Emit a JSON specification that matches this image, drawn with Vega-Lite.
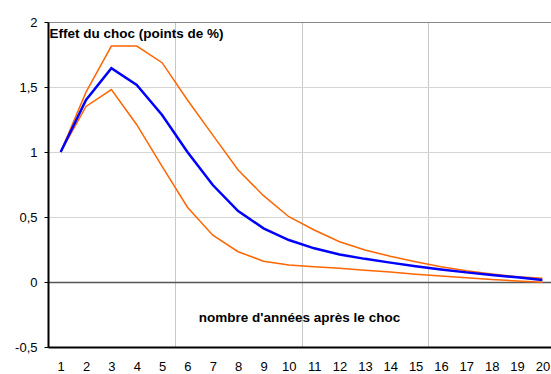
{
  "$schema": "https://vega.github.io/schema/vega-lite/v6.json",
  "width": 503,
  "height": 325,
  "autosize": {"type": "none"},
  "padding": {"left": 48, "top": 22, "right": 0, "bottom": 27},
  "background": "white",
  "config": {
    "view": {"stroke": null},
    "font": "Liberation Sans",
    "axis": {"labelFont": "Liberation Sans", "labelFontSize": 13, "labelColor": "#000", "titleFont": "Liberation Sans", "titleFontSize": 13.5, "titleFontWeight": "bold", "titleColor": "#000"}
  },
  "data": {
    "values": [
      {"annee": 1, "central": 1.0, "haut": 1.0, "bas": 1.0},
      {"annee": 2, "central": 1.40, "haut": 1.46, "bas": 1.35},
      {"annee": 3, "central": 1.645, "haut": 1.815, "bas": 1.48},
      {"annee": 4, "central": 1.515, "haut": 1.815, "bas": 1.21},
      {"annee": 5, "central": 1.285, "haut": 1.687, "bas": 0.89},
      {"annee": 6, "central": 1.0, "haut": 1.40, "bas": 0.575},
      {"annee": 7, "central": 0.746, "haut": 1.13, "bas": 0.36},
      {"annee": 8, "central": 0.546, "haut": 0.862, "bas": 0.233},
      {"annee": 9, "central": 0.413, "haut": 0.664, "bas": 0.16},
      {"annee": 10, "central": 0.323, "haut": 0.502, "bas": 0.131},
      {"annee": 11, "central": 0.259, "haut": 0.40, "bas": 0.117},
      {"annee": 12, "central": 0.212, "haut": 0.31, "bas": 0.105},
      {"annee": 13, "central": 0.178, "haut": 0.246, "bas": 0.091},
      {"annee": 14, "central": 0.149, "haut": 0.198, "bas": 0.077},
      {"annee": 15, "central": 0.122, "haut": 0.156, "bas": 0.06},
      {"annee": 16, "central": 0.097, "haut": 0.118, "bas": 0.046},
      {"annee": 17, "central": 0.074, "haut": 0.087, "bas": 0.033},
      {"annee": 18, "central": 0.054, "haut": 0.062, "bas": 0.02},
      {"annee": 19, "central": 0.036, "haut": 0.041, "bas": 0.008},
      {"annee": 20, "central": 0.015, "haut": 0.028, "bas": -0.002}
    ]
  },
  "encoding": {
    "x": {
      "field": "annee",
      "type": "quantitative",
      "scale": {"domain": [0.5, 20.34], "nice": false, "zero": false},
      "axis": {
        "title": "nombre d'années après le choc",
        "titleX": 251,
        "titleY": -30,
        "titleAnchor": null,
        "titleAlign": "center",
        "titleBaseline": "middle",
        "values": [1, 2, 3, 4, 5, 5.5, 6, 7, 8, 9, 10, 10.5, 11, 12, 13, 14, 15, 15.5, 16, 17, 18, 19, 20],
        "labelExpr": "datum.value % 1 == 0 ? datum.label : ''",
        "ticks": false,
        "labelPadding": 13,
        "domainColor": "#000",
        "domainWidth": 2,
        "grid": true,
        "gridColor": "#c8c8c8",
        "gridOpacity": {"condition": {"test": "datum.value % 1 != 0", "value": 1}, "value": 0},
        "labelFlush": false,
        "labelOverlap": false
      }
    }
  },
  "layer": [
    {
      "transform": [{"fold": ["haut", "bas"], "as": ["borne", "valeur"]}],
      "mark": {"type": "line", "color": "#FF6600", "strokeWidth": 1.5},
      "encoding": {
        "y": {
          "field": "valeur",
          "type": "quantitative",
          "scale": {"domain": [-0.5, 2], "nice": false, "zero": false},
          "axis": {
            "title": "Effet du choc (points de %)",
            "titleAngle": 0,
            "titleX": 1,
            "titleY": 11,
            "titleAnchor": null,
            "titleAlign": "left",
            "titleBaseline": "middle",
            "values": [-0.5, 0, 0.5, 1, 1.5, 2],
            "labelExpr": "(datum.value < 0 ? '-' : '') + replace(format(abs(datum.value), '.1~f'), '.', ',')",
            "tickSize": 4,
            "tickColor": "#000",
            "labelPadding": 7,
            "domainColor": "#000",
            "domainWidth": 2,
            "grid": true,
            "gridColor": {"expr": "datum.value == 0 ? '#555555' : (datum.value == 2 ? '#888888' : '#d4d4d4')"},
            "gridWidth": {"expr": "datum.value == 0 ? 1.5 : 1"}
          }
        },
        "detail": {"field": "borne", "type": "nominal"}
      }
    },
    {
      "mark": {"type": "line", "color": "#0000FF", "strokeWidth": 2.5},
      "encoding": {
        "y": {"field": "central", "type": "quantitative"}
      }
    }
  ]
}
